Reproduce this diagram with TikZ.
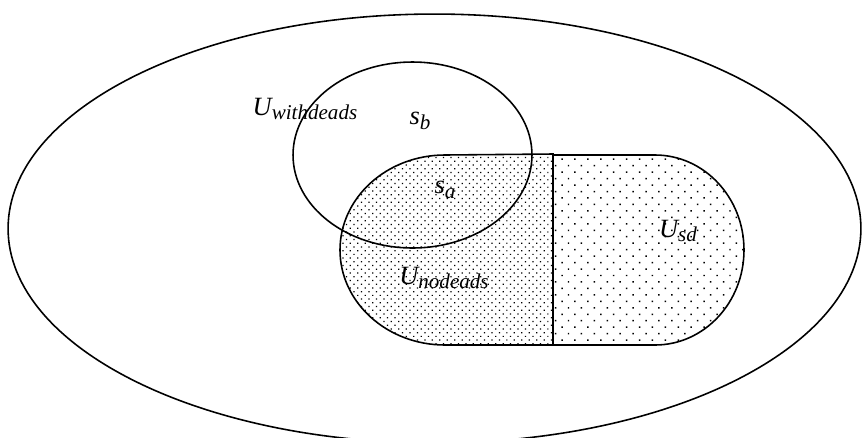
\documentclass[tikz,border=0pt]{standalone}
\usepackage{fontspec}
\setmainfont{Liberation Serif}
\usepackage{tikz}
\usetikzlibrary{shapes.geometric,patterns.meta}

% set name with a lowered italic subscript
\newcommand{\vset}[2]{\textit{#1}\raisebox{-2.8pt}{\fontsize{12}{12}\selectfont\itshape #2}}

\tikzset{
  setname/.style={font=\fontsize{15}{18}\selectfont\itshape, inner sep=0pt},
  densedots/.style={pattern={Dots[distance=3pt, radius=0.5pt, angle=45]}},
  sparsedots/.style={pattern={Dots[distance=5.2pt, radius=0.6pt, angle=45]}}
}

\begin{document}
\begin{tikzpicture}[x=0.02cm, y=-0.02cm, line width=0.9pt]
        % Fix the page to the size of the figure
        \useasboundingbox (0,0) rectangle (863,437);

        % Define coordinates
        \coordinate (nd_top) at (553,154);
        \coordinate (nd_bot) at (553,345);
        \coordinate (sd_top) at (553,155);

        % Shade the region without dead states (dense dots)
        \draw[densedots] (nd_top) -- (445,155)
            arc[start angle=-90, end angle=-270, x radius=105, y radius=95]
            -- (nd_bot) -- cycle;

        % Shade the region of the sd states (sparse dots)
        \draw[sparsedots] (sd_top) -- (655,155)
            arc[start angle=-90, end angle=90, x radius=89, y radius=95]
            -- (nd_bot) -- cycle;

        % Thick border between both regions
        \draw[line width=1.3pt] (nd_top) -- (nd_bot);

        % Draw the outer universe (large oval)
        \node[draw, ellipse, minimum width=17.06cm, minimum height=8.58cm] (universe) at (434.5,228.5) {};

        % Draw the region with dead states (smaller oval)
        \node[draw, ellipse, minimum width=4.78cm, minimum height=3.72cm] (withset) at (412.5,155) {};

        % Labels
        \node[setname] (withdeads) at (305,109) {\vset{U}{withdeads}};
        \node[setname] (sb) at (420,121) {\vset{s}{b}};
        \node[setname] (sa) at (445,190) {\vset{s}{a}};
        \node[setname] (nodeads) at (444,278) {\vset{U}{nodeads}};
        \node[setname] (sd) at (678,231) {\vset{U}{sd}};
      \end{tikzpicture}
\end{document}
